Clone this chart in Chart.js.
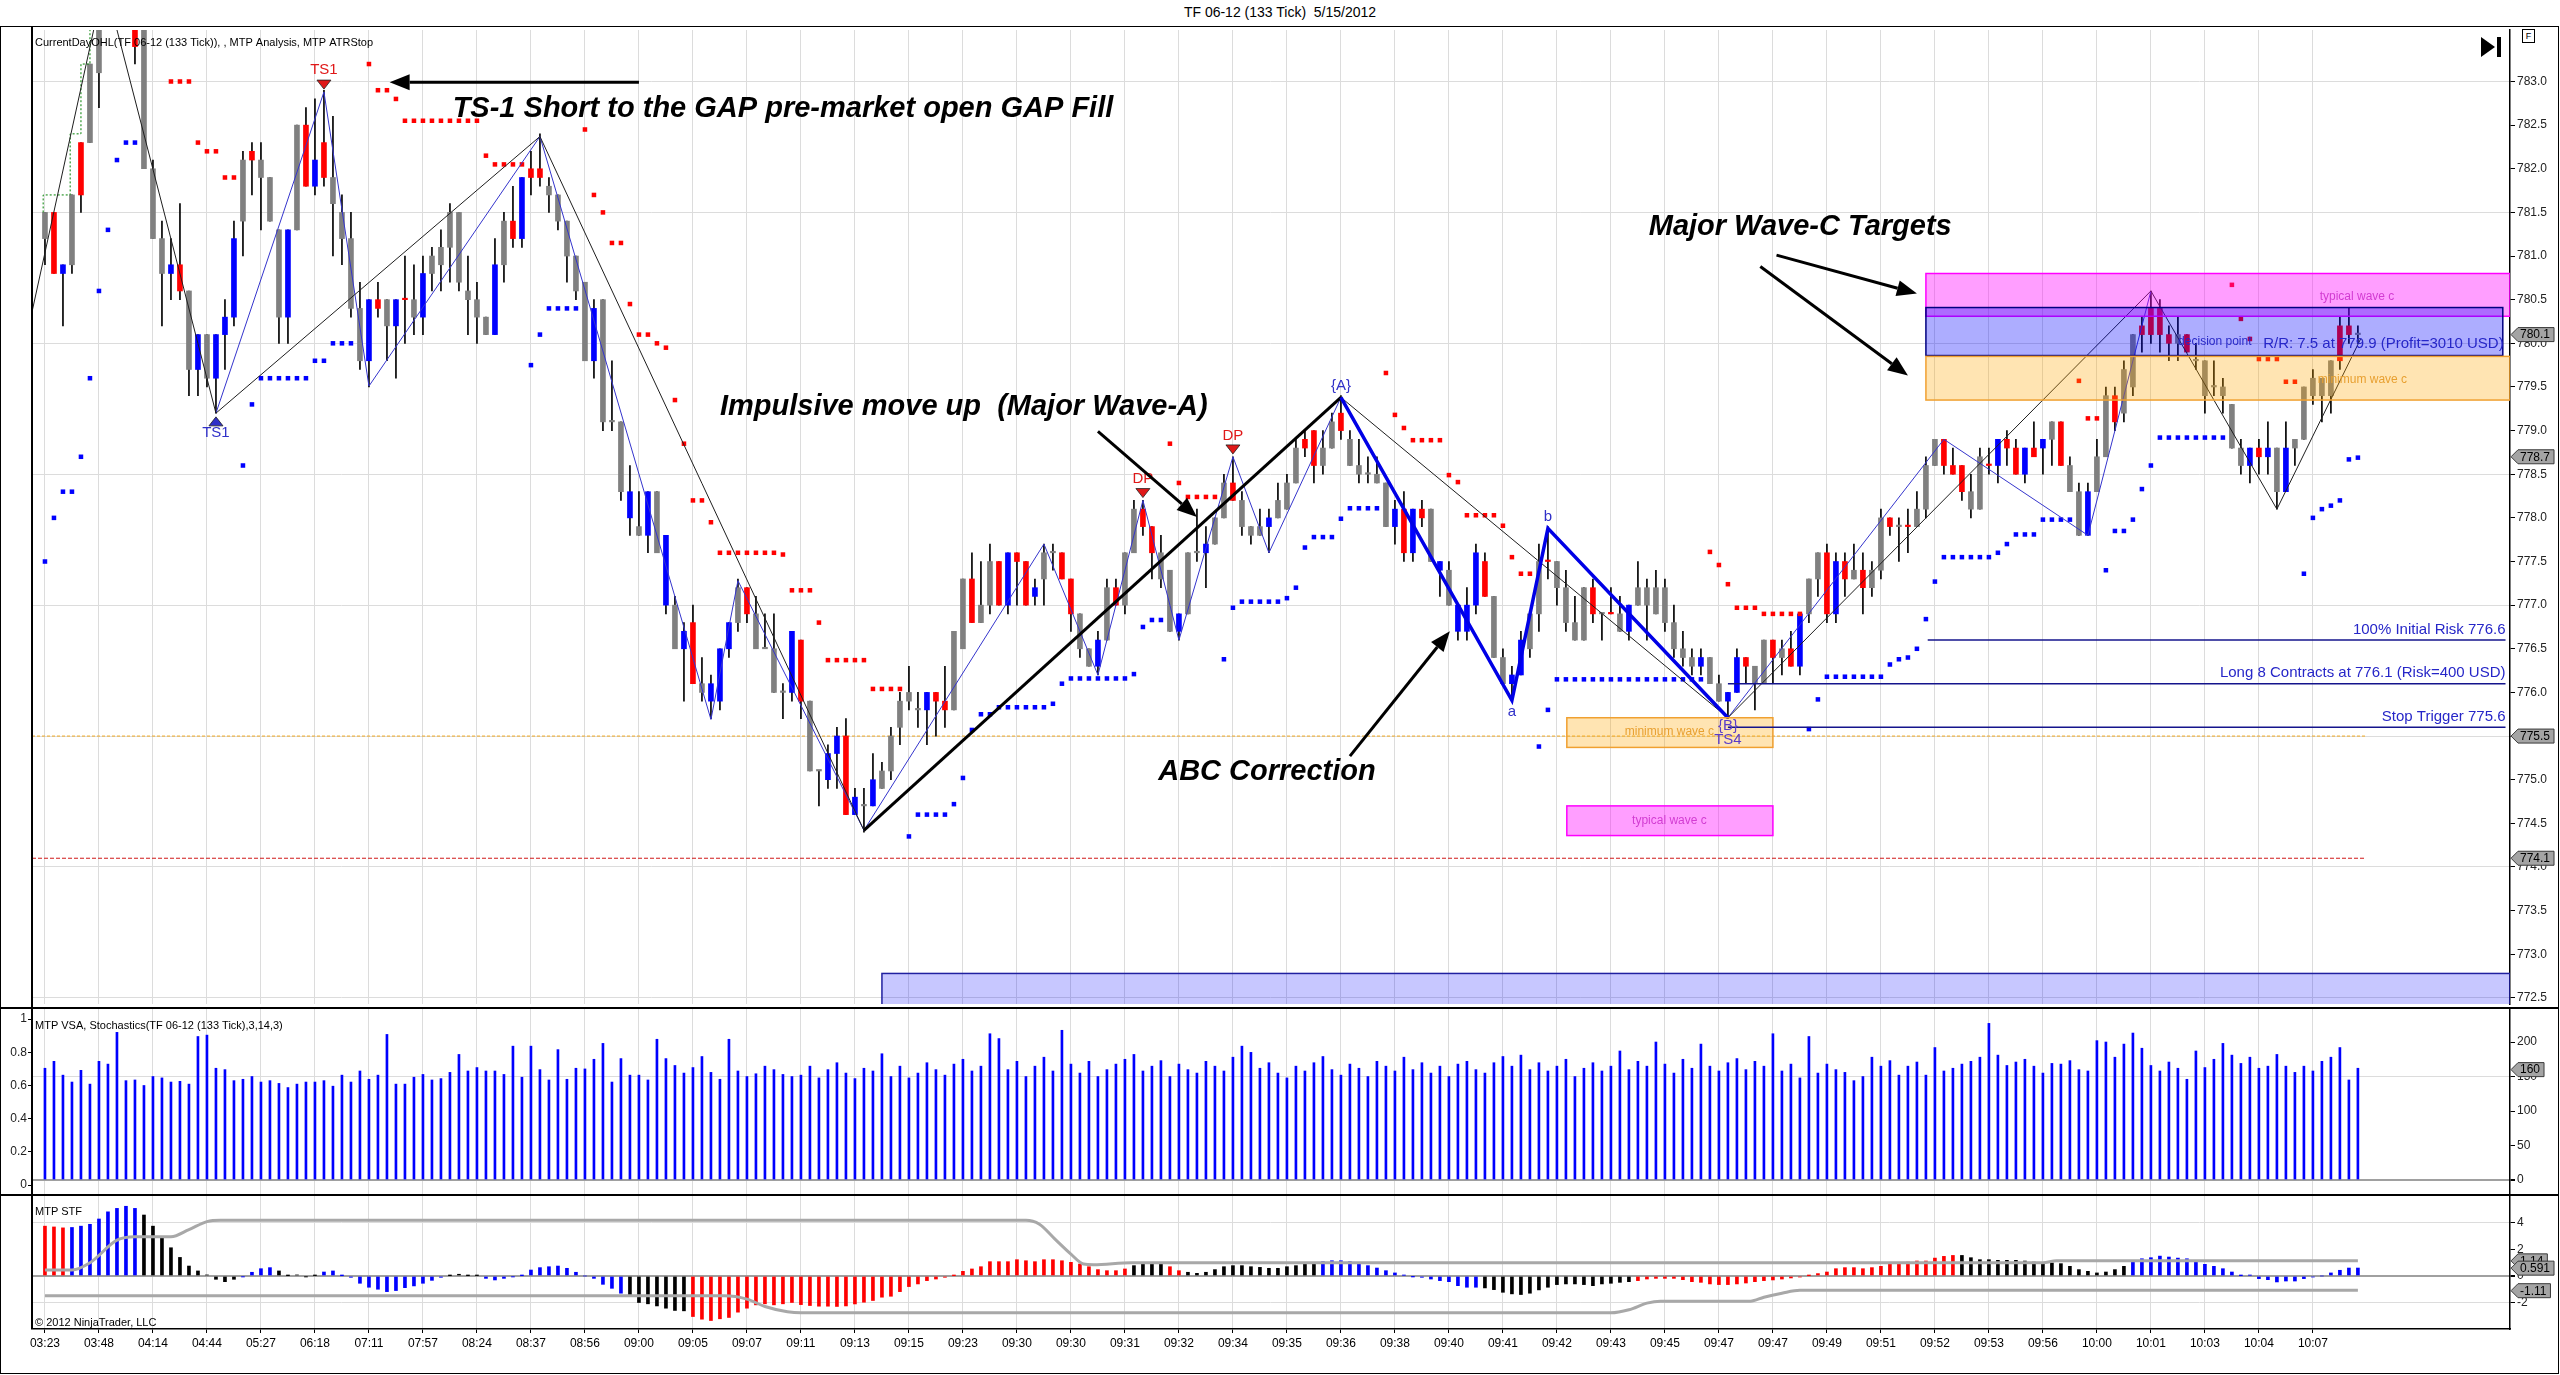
<!DOCTYPE html>
<html>
<head>
<meta charset="utf-8">
<title>TF 06-12 (133 Tick) 5/15/2012</title>
<script src="https://cdn.jsdelivr.net/npm/chart.js@4.4.1/dist/chart.umd.min.js"></script>
<style>
  html, body { margin: 0; padding: 0; background: #fff; }
  #page { position: relative; width: 2560px; height: 1375px; overflow: hidden; font-family: "Liberation Sans", Arial, sans-serif; }
  #title { position: absolute; left: 0; top: 4px; width: 2560px; text-align: center; font-size: 14px; color: #000; white-space: pre; }
  canvas { position: absolute; left: 0; }
  #mainCanvas { top: 26px; }
  #vsaCanvas { top: 1008px; }
  #stfCanvas { top: 1195px; }
  .rule { position: absolute; background: #000; }
  #frame { position: absolute; left: 0; top: 26px; width: 2559px; height: 1348px; border: 1px solid #000; box-sizing: border-box; }
  #fbox { position: absolute; left: 2522px; top: 29px; width: 11px; height: 12px; border: 1px solid #000; font-size: 9px; line-height: 12px; text-align: center; background: #fff; }
  #endIcon { position: absolute; left: 2481px; top: 37px; }
</style>
</head>
<body>
<div id="page">
  <div id="title">TF 06-12 (133 Tick)  5/15/2012</div>
  <canvas id="mainCanvas" width="2560" height="982" style="width:2560px;height:982px"></canvas>
  <canvas id="vsaCanvas" width="2560" height="187" style="width:2560px;height:187px"></canvas>
  <canvas id="stfCanvas" width="2560" height="178" style="width:2560px;height:178px"></canvas>
  <div id="frame"></div>
  <div class="rule" style="left:0;top:1007px;width:2559px;height:2px"></div>
  <div class="rule" style="left:0;top:1194px;width:2559px;height:2px"></div>
  <div class="rule" style="left:31px;top:26px;width:1.5px;height:1303px"></div>
  <div id="fbox">F</div>
  <svg id="endIcon" width="22" height="20"><polygon points="0,0 14,10 0,20" fill="#000"/><rect x="16" y="0" width="4" height="20" fill="#000"/></svg>
</div>
<script>
// ---- time axis ----
const timeLabels = ['03:23','03:48','04:14','04:44','05:27','06:18','07:11','07:57','08:24','08:37','08:56',
  '09:00','09:05','09:07','09:11','09:13','09:15','09:23','09:30','09:30','09:31','09:32','09:34','09:35',
  '09:36','09:38','09:40','09:41','09:42','09:43','09:45','09:47','09:47','09:49','09:51','09:52','09:53',
  '09:56','10:00','10:01','10:03','10:04','10:07'];
const labelEvery = 6;
const priceTicks = [783.0,782.5,782.0,781.5,781.0,780.5,780.0,779.5,779.0,778.5,778.0,777.5,777.0,776.5,776.0,775.5,775.0,774.5,774.0,773.5,773.0,772.5];
const vsaTicks = [0, 50, 100, 150, 200];
const stochTicks = [0, 0.2, 0.4, 0.6, 0.8, 1];
const stfTicks = [4, 2, 0, -2];

// ---- candles (133 tick bars) ----
const bodyTop = [
  781.5,781.5,780.9,781.7,782.3,783.2,783.7,784.0,784.2,784.1,783.7,783.7,782.0,781.2,780.9,780.9,780.6,780.1,780.1,780.1,
  780.3,781.2,782.1,782.2,782.1,781.9,781.3,781.3,782.5,782.5,782.1,782.3,781.9,781.5,781.2,780.4,780.5,780.5,780.5,780.5,
  780.5,780.5,780.8,781.0,781.1,781.5,781.5,780.6,780.5,780.3,780.9,781.4,781.4,781.9,782.0,782.0,781.8,781.7,781.4,781.0,
  780.7,780.4,780.5,779.1,779.1,778.3,777.9,778.3,778.3,777.8,777.0,776.7,776.8,776.1,776.1,776.5,776.8,777.2,777.2,776.9,
  776.5,776.5,776.0,776.7,776.6,775.9,775.1,775.3,775.5,775.5,774.8,774.7,775.0,775.1,775.5,775.9,776.0,775.8,776.0,776.0,
  775.9,776.7,777.3,777.3,777.0,777.5,777.5,777.6,777.6,777.5,777.2,777.6,777.6,777.6,777.3,776.9,776.5,776.6,777.2,777.2,
  777.6,778.1,778.1,777.9,777.6,777.4,776.9,777.6,777.6,777.7,778.0,778.4,778.4,778.2,777.9,777.9,778.0,778.2,778.4,778.8,
  778.9,779.0,778.8,779.1,779.2,778.9,778.6,778.5,778.5,778.4,778.1,778.1,778.1,778.1,778.1,777.5,777.4,777.0,777.0,777.6,
  777.5,777.1,776.4,776.2,776.6,776.9,777.5,777.5,777.5,777.2,776.8,777.2,777.2,776.9,776.9,776.9,777.0,777.2,777.2,777.2,
  777.2,776.8,776.5,776.4,776.4,776.4,776.1,776.0,776.4,776.4,776.3,776.6,776.6,776.5,776.5,776.9,777.3,777.6,777.6,777.5,
  777.5,777.4,777.4,777.4,778.0,778.0,777.9,777.9,778.1,778.6,778.9,778.9,778.6,778.6,778.3,778.7,778.6,778.9,778.9,778.8,
  778.8,778.8,778.9,779.1,779.1,778.6,778.3,778.3,778.7,779.4,779.4,779.7,780.1,780.2,780.4,780.4,780.1,780.1,780.1,779.8,
  779.8,779.5,779.5,779.3,778.8,778.8,778.8,778.8,778.8,778.8,778.9,779.5,779.6,779.6,779.8,780.2,780.2,780.1];
const bodyBot = [
  781.2,780.8,780.8,780.9,781.7,782.3,783.1,783.7,783.9,783.8,783.4,782.0,781.2,780.8,780.8,780.6,779.7,779.7,779.6,779.6,
  780.1,780.3,781.4,782.1,781.9,781.4,780.3,780.3,781.3,781.8,781.8,781.9,781.6,781.2,780.4,779.8,779.8,780.4,780.2,780.2,
  780.5,780.3,780.3,780.8,780.9,781.1,780.7,780.5,780.3,780.1,780.1,780.9,781.2,781.2,781.9,781.9,781.7,781.4,781.0,780.6,
  779.8,779.8,779.1,779.1,778.3,778.0,777.8,777.8,777.6,777.0,776.5,776.5,776.1,776.0,775.9,775.9,776.5,776.8,776.9,776.5,
  776.5,776.0,776.0,776.0,775.9,775.1,775.1,775.0,775.3,774.6,774.6,774.7,774.7,774.9,775.1,775.6,775.9,775.8,775.8,775.9,
  775.8,775.8,776.5,776.8,776.8,777.0,777.0,777.0,777.5,777.0,777.1,777.3,777.6,777.3,776.9,776.5,776.3,776.3,776.6,777.0,
  777.0,777.6,777.9,777.6,777.3,776.7,776.7,776.9,777.6,777.6,777.7,778.0,778.2,777.9,777.8,777.8,777.9,778.0,778.1,778.4,
  778.8,778.6,778.6,778.8,779.0,778.6,778.5,778.5,778.4,777.9,777.9,777.6,777.6,778.0,777.5,777.4,777.0,776.7,776.7,777.0,
  777.1,776.4,776.1,776.1,776.2,776.5,776.9,777.5,777.2,776.8,776.6,776.6,776.9,776.9,776.9,776.7,776.7,777.0,777.0,776.9,
  776.8,776.5,776.4,776.3,776.3,776.1,775.9,775.9,776.0,776.3,776.1,776.1,776.4,776.4,776.3,776.3,776.9,777.3,776.9,776.9,
  777.3,777.3,777.2,777.2,777.4,777.9,777.9,777.9,777.9,778.1,778.6,778.6,778.5,778.3,778.1,778.1,778.6,778.6,778.8,778.5,
  778.5,778.7,778.8,778.9,778.6,778.3,777.8,777.8,778.3,778.7,779.1,779.2,779.5,780.1,780.1,780.1,780.0,780.0,779.9,779.8,
  779.4,779.5,779.4,778.8,778.6,778.6,778.7,778.7,778.3,778.3,778.8,778.9,779.4,779.4,779.4,779.8,780.1,780.1];
const high = [
  781.5,781.5,780.9,781.7,782.3,783.2,783.7,784.1,784.3,784.2,783.7,783.7,782.1,781.4,781.2,781.6,780.6,780.1,780.1,780.1,
  780.5,781.4,782.2,782.3,782.3,781.9,781.3,781.3,782.5,782.7,782.8,782.9,782.6,781.7,781.5,780.7,780.5,780.7,780.5,780.5,
  781.0,780.9,781.0,781.1,781.3,781.6,781.5,781.0,780.7,780.3,781.2,781.5,781.8,781.9,782.2,782.4,781.9,781.7,781.4,781.0,
  780.7,780.5,780.5,779.8,779.1,778.6,778.3,778.3,778.3,777.8,777.1,776.8,777.0,776.4,776.2,776.5,776.8,777.3,777.2,777.1,
  776.9,776.9,776.1,776.7,776.6,775.9,775.1,775.4,775.6,775.7,774.9,774.9,775.3,775.2,775.6,776.0,776.3,776.0,776.0,776.0,
  776.3,776.7,777.3,777.6,777.5,777.7,777.5,777.6,777.6,777.5,777.3,777.7,777.7,777.6,777.3,776.9,776.5,776.7,777.3,777.3,
  777.6,778.2,778.2,777.9,777.8,777.4,776.9,777.6,778.1,777.9,778.0,778.5,778.7,778.3,777.9,778.1,778.1,778.4,778.5,778.9,
  779.0,779.0,779.0,779.2,779.4,779.0,778.9,778.7,778.7,778.4,778.2,778.3,778.1,778.2,778.1,777.5,777.5,777.0,777.2,777.7,
  777.6,777.1,776.5,776.3,776.7,776.9,777.7,777.9,777.5,777.4,777.1,777.2,777.3,776.9,777.2,777.1,777.0,777.5,777.3,777.4,
  777.3,777.0,776.7,776.5,776.5,776.4,776.2,776.0,776.5,776.4,776.3,776.6,776.6,776.6,776.7,776.9,777.3,777.6,777.7,777.6,
  777.6,777.7,777.6,777.5,778.1,778.0,778.0,778.1,778.3,778.7,778.9,778.9,778.8,778.6,778.5,778.8,778.8,778.9,779.0,778.9,
  778.8,779.1,778.9,779.1,779.1,778.7,778.4,778.4,778.9,779.5,779.5,779.8,780.1,780.3,780.6,780.5,780.2,780.3,780.1,780.0,
  779.8,779.8,779.6,779.3,778.9,778.8,778.9,779.1,778.8,779.1,778.9,779.5,779.7,779.6,779.8,780.3,780.4,780.2];
const low = [
  780.9,780.8,780.2,780.8,781.5,782.3,782.7,783.6,783.8,783.7,783.2,782.0,781.2,780.2,780.5,780.5,779.4,779.4,779.5,779.2,
  779.7,780.2,781.0,781.7,781.3,781.4,780.0,780.0,781.3,781.8,781.7,781.8,781.0,780.9,780.3,779.7,779.5,780.3,779.8,779.6,
  780.0,780.1,780.1,780.6,780.6,780.7,780.6,780.1,780.0,780.1,780.1,780.7,781.1,781.1,781.7,781.8,781.5,781.3,780.7,780.5,
  779.8,779.6,779.0,779.0,778.2,777.8,777.8,777.6,777.6,776.9,776.5,775.9,776.1,775.9,775.7,775.8,776.4,776.7,776.8,776.5,
  776.5,776.0,775.7,775.9,775.7,775.1,774.7,774.9,774.9,774.6,774.6,774.4,774.7,774.9,775.0,775.4,775.8,775.6,775.4,775.5,
  775.6,775.8,776.5,776.8,776.8,776.9,777.0,776.9,777.0,777.0,777.0,777.0,777.4,777.3,776.7,776.4,776.3,776.2,776.6,777.0,
  776.9,777.6,777.8,777.3,777.2,776.7,776.6,776.9,777.5,777.2,777.7,778.0,778.2,777.8,777.7,777.8,777.6,778.0,778.1,778.4,
  778.7,778.4,778.5,778.8,778.9,778.6,778.4,778.4,778.4,777.9,777.7,777.5,777.5,777.9,777.5,777.1,777.0,776.6,776.6,776.9,
  777.1,776.4,776.1,775.9,776.2,776.4,776.7,777.3,777.0,776.7,776.6,776.6,776.8,776.6,776.9,776.7,776.6,777.0,776.6,776.9,
  776.7,776.4,776.3,776.2,776.2,776.1,775.9,775.7,776.0,776.1,775.8,776.1,776.1,776.2,776.3,776.2,776.8,777.1,776.8,776.8,
  777.1,777.3,776.9,777.1,777.3,777.8,777.5,777.6,777.9,778.0,778.6,778.5,778.5,778.2,778.0,778.1,778.5,778.4,778.6,778.5,
  778.4,778.7,778.5,778.6,778.6,778.3,777.8,777.8,778.3,778.7,779.0,779.1,779.4,779.9,780.0,779.9,779.8,779.8,779.9,779.7,
  779.2,779.4,779.2,778.8,778.5,778.4,778.5,778.5,778.1,778.3,778.6,778.9,779.3,779.1,779.2,779.7,780.0,780.0];
// g = neutral, r = red, b = blue bar colouring
const candleColor = (
  'grbgrgggggrgggbrgbgb' + 'bbgrgggbgrbrggggbrgb' + 'rgbgggggggbgrbrrgggg' + 'gbgggbgbgbgbrgbbbgrg' +
  'gggbrggbbrbgbgggggbr' + 'rggrggrbrrbggrrggbgr' + 'ggrrggbggbggrgggbggg' + 'rrggrgggggbrbrgbgbbb' +
  'rggbbggrggggrgrgbggg' + 'ggggbggbbrggrgrbggrb' + 'rgrggrgrgggrrrggrbrr' + 'brbgrggbggrggrrrrgrg' +
  'gggggbrbgbgggggrrg').split('');

// ---- ATR stop dots ----
const n = null;
const atrRed = [
  n,n,n,n,n,n,n,n,n,n,n,n,n,n,783.0,783.0,783.0,782.3,782.2,782.2,
  781.9,781.9,n,n,n,n,n,n,n,n,n,n,n,n,n,n,783.2,782.9,782.9,782.8,
  782.55,782.55,782.55,782.55,782.55,782.55,782.55,782.55,782.55,782.15,782.05,782.05,782.05,782.05,n,n,n,n,n,n,
  782.45,781.7,781.5,781.15,781.15,780.45,780.1,780.1,780.0,779.95,779.35,778.85,778.2,778.2,777.95,777.6,777.6,777.6,777.6,777.6,
  777.6,777.6,777.58,777.17,777.17,777.17,776.8,776.37,776.37,776.37,776.37,776.37,776.04,776.04,776.04,776.04,n,n,n,n,
  n,n,n,n,n,n,n,n,n,n,n,n,n,n,n,n,n,n,n,n,
  n,n,n,n,n,778.85,778.4,778.24,778.24,778.24,778.24,n,n,n,n,n,n,n,n,n,
  n,n,n,n,n,n,n,n,n,779.66,779.18,779.03,778.89,778.89,778.89,778.89,778.49,778.41,778.03,778.03,
  778.03,778.03,777.91,777.55,777.36,777.36,n,n,n,n,n,n,n,n,n,n,n,n,n,n,
  n,n,n,n,n,777.61,777.46,777.24,776.97,776.97,776.97,776.9,776.9,776.9,776.9,776.9,n,n,n,n,
  n,n,n,n,n,n,n,n,n,n,n,n,n,n,n,n,n,n,n,n,
  n,n,n,n,n,n,779.57,779.14,779.14,n,n,n,n,n,n,n,n,n,n,n,
  n,n,n,780.67,780.28,780.05,779.82,779.82,779.82,779.56,779.56,n,n,n,n,n,n,n];
const atrBlue = [
  777.5,778.0,778.3,778.3,778.7,779.6,780.6,781.3,782.1,782.3,782.3,n,n,n,n,n,n,n,n,n,
  n,n,778.6,779.3,779.6,779.6,779.6,779.6,779.6,779.6,779.8,779.8,780.0,780.0,780.0,n,n,n,n,n,
  n,n,n,n,n,n,n,n,n,n,n,n,n,n,779.75,780.1,780.4,780.4,780.4,780.4,
  n,n,n,n,n,n,n,n,n,n,n,n,n,n,n,n,n,n,n,n,
  n,n,n,n,n,n,n,n,n,n,n,n,n,n,n,n,774.35,774.6,774.6,774.6,
  774.6,774.72,775.02,775.57,775.75,775.75,775.83,775.83,775.83,775.83,775.83,775.83,775.87,776.1,776.16,776.16,776.16,776.16,776.16,776.16,
  776.16,776.21,776.75,776.83,776.83,n,n,n,n,n,n,776.38,776.97,777.04,777.04,777.04,777.04,777.04,777.08,777.2,
  777.66,777.78,777.78,777.78,777.99,778.11,778.11,778.11,778.11,n,n,n,n,n,n,n,n,n,n,n,
  n,n,n,n,n,n,775.38,775.8,776.15,776.15,776.15,776.15,776.15,776.15,776.15,776.15,776.15,776.15,776.15,776.15,
  776.15,776.15,776.15,776.15,776.15,n,n,n,n,n,n,n,n,n,n,n,775.58,775.92,776.18,776.18,
  776.18,776.18,776.18,776.18,776.18,776.32,776.38,776.4,776.5,776.84,777.27,777.55,777.55,777.55,777.55,777.55,777.55,777.6,777.7,777.81,
  777.81,777.81,777.98,777.98,777.98,777.98,n,n,n,777.4,777.85,777.85,777.98,778.33,778.6,778.92,778.92,778.92,778.92,778.92,
  778.92,778.92,778.92,n,n,n,n,n,n,n,n,777.36,778.0,778.1,778.14,778.2,778.67,778.69];

// ---- swing lines [bar, price] ----
const dayHigh = [[-0.2,781.5],[2.8,781.7],[4,782.4],[5,783.2],[6,783.7]];
const zigBlack1 = [[-1.44,780.36],[6.6,784.15],[19,779.2],[55,782.37],[91,774.42]];
const waveA = [[91,774.42],[144,779.38]];
const zigBlack2 = [[144,779.38],[187,775.71],[234,780.6],[248,778.1],[257.3,780.05]];
const zigBlue1 = [[19,779.2],[31,782.88],[36,779.51],[55,782.37],[74,775.69],[77,777.28],[91,774.42],[111,777.7],
  [117,776.2],[122,778.2],[126,776.6],[132,778.7],[136,777.6],[144,779.38]];
const zigBlue2 = [[187,775.71],[211,778.9],[227,777.8],[234,780.6]];
const abcLine = [[144,779.38],[163,775.91],[167,777.88],[187,775.71]];

// ---- levels ----
const dayLevels = [775.5, 774.1];
const dayLevelEnd = 257.8;
const tradeLevels = [776.6, 776.1, 775.6];
const tradeFrom = [209.2, 187, 187];
const tradeEnd = 273.4;
const tradeText = ['100% Initial Risk 776.6', 'Long 8 Contracts at 776.1 (Risk=400 USD)', 'Stop Trigger 775.6'];
const rrText = 'R/R: 7.5 at 779.9 (Profit=3010 USD)';
const rrAt = [273.2, 779.99];

// ---- target zones ----
const zoneKind = ['pink', 'blue', 'orange', 'orange', 'pink', 'band'];
const zoneBars = [[209, 273.9], [209, 273.1], [209, 273.9], [169.1, 192], [169.1, 192], [93, 273.9]];
const zonePrices = [[780.31, 780.80], [779.86, 780.41], [779.35, 779.85], [775.37, 775.71], [774.36, 774.70], [772.2, 772.78]];
const zoneText = ['typical wave c', 'decision point', 'minimum wave c', 'minimum wave c', 'typical wave c', ''];
const zoneTextAt = [[256.9, 780.54], [241.1, 780.02], [257.5, 779.58], [180.5, 775.55], [180.5, 774.53], null];

// ---- markers ----
const markText = ['TS1', 'TS1', 'DP', 'DP', '{A}', 'a', 'b', '{B}', 'TS4'];
const markAt = [[31, 783.13], [19, 778.97], [122, 778.45], [132, 778.94], [144, 779.51], [163, 775.78], [167, 778.01], [187, 775.62], [187, 775.46]];
const markTone = ['r', 'b', 'r', 'r', 'b', 'b', 'b', 'p', 'p'];
const triAt = [[31, 782.97], [19, 779.1], [122, 778.29], [132, 778.79]];
const triUp = [false, true, false, false];
const triTone = ['r', 'b', 'r', 'r'];

// ---- notes and arrows ----
const noteText = ['TS-1 Short to the GAP pre-market open GAP Fill', 'Impulsive move up  (Major Wave-A)', 'ABC Correction', 'Major Wave-C Targets'];
const noteAt = [[45.3, 782.69], [75, 779.27], [123.7, 775.09], [178.2, 781.33]];
const arrows = [[66, 782.99, 38.3, 782.99], [117, 778.99, 128, 778.01], [145, 775.27, 156.1, 776.70], [192.4, 781.01, 208, 780.57], [190.6, 780.88, 207, 779.63]];

// ---- axis tags ----
const priceTags = [780.1, 778.7, 775.5, 774.1];
const vsaTags = [160];
const stfTags = [1.14, 0.591, -1.11];

// ---- MTP VSA volume ----
const vsa = [
  162,172,152,142,159,139,172,168,214,144,145,137,150,148,142,143,139,208,210,162,
  160,144,146,150,142,144,140,134,139,142,142,144,136,152,142,158,146,152,211,139,
  139,149,153,145,147,156,182,158,163,158,158,153,194,149,194,160,145,189,146,162,
  161,175,198,142,176,152,152,145,204,176,166,155,163,179,156,146,204,158,150,154,
  165,160,153,150,152,165,148,160,170,155,147,162,158,183,150,165,148,155,170,160,
  152,168,175,158,165,212,205,160,172,150,165,178,158,217,168,155,172,150,160,168,
  175,182,158,165,173,150,168,160,155,172,165,158,178,194,185,162,170,155,148,165,
  158,170,179,160,152,168,162,150,172,165,158,178,160,170,155,165,150,168,172,160,
  155,170,179,165,181,160,170,158,165,175,150,162,170,158,165,187,160,172,165,200,
  168,155,175,162,197,165,158,170,176,160,172,165,212,158,168,148,208,155,168,160,
  156,144,150,178,165,173,152,165,171,152,192,158,162,168,172,178,227,181,166,171,
  175,165,155,169,168,173,160,158,202,200,178,197,213,191,166,158,171,162,146,187,
  163,175,198,181,169,178,162,165,182,165,156,165,158,172,178,192,145,162];

// ---- MTP STF histogram ----
const stf = [
  3.76,3.7,3.63,3.66,3.76,3.9,4.3,4.84,5.1,5.26,5.1,4.6,3.76,2.96,2.13,1.4,0.75,0.38,0.08,-0.25,
  -0.43,-0.25,-0.05,0.28,0.55,0.63,0.38,0.02,0.08,-0.05,0.03,0.3,0.38,0.02,-0.1,-0.55,-0.85,-1.0,-1.18,-1.1,
  -0.88,-0.75,-0.55,-0.33,-0.1,0.02,0.13,0.02,0.03,-0.18,-0.3,-0.18,-0.05,0.02,0.45,0.63,0.7,0.75,0.58,0.28,
  0.0,-0.18,-0.63,-0.93,-1.3,-1.5,-2.0,-2.1,-2.26,-2.43,-2.6,-2.63,-3.06,-3.26,-3.36,-3.23,-3.13,-2.73,-2.43,-2.18,
  -2.1,-2.18,-2.1,-2.0,-2.16,-2.23,-2.28,-2.28,-2.3,-2.26,-2.11,-1.98,-1.85,-1.6,-1.53,-1.18,-0.8,-0.6,-0.35,-0.23,
  -0.1,0.02,0.35,0.53,0.7,1.08,1.08,1.08,1.23,1.15,1.08,1.23,1.23,1.15,1.03,0.9,0.7,0.48,0.4,0.4,
  0.53,0.78,0.98,0.98,0.98,0.7,0.4,0.28,0.2,0.28,0.48,0.7,0.78,0.78,0.7,0.65,0.58,0.58,0.7,0.78,
  0.9,1.03,1.08,1.15,1.15,1.08,0.98,0.78,0.6,0.4,0.23,0.05,-0.03,-0.1,-0.23,-0.35,-0.43,-0.73,-0.85,-0.85,
  -0.9,-1.03,-1.23,-1.35,-1.4,-1.3,-1.05,-0.85,-0.65,-0.6,-0.6,-0.65,-0.73,-0.6,-0.55,-0.48,-0.43,-0.35,-0.23,-0.18,
  -0.18,-0.18,-0.28,-0.43,-0.48,-0.6,-0.65,-0.65,-0.6,-0.53,-0.43,-0.35,-0.3,-0.23,-0.15,-0.08,0.02,0.18,0.3,0.55,
  0.63,0.63,0.55,0.63,0.73,0.88,0.98,1.05,1.13,1.13,1.35,1.48,1.55,1.55,1.38,1.23,1.23,1.18,1.18,1.18,
  1.13,1.05,0.98,0.98,0.93,0.73,0.48,0.35,0.23,0.3,0.48,0.73,1.05,1.3,1.38,1.5,1.43,1.35,1.3,1.05,
  0.88,0.73,0.55,0.3,0.02,0.05,-0.2,-0.28,-0.45,-0.38,-0.38,-0.2,-0.08,0.0,0.23,0.43,0.6,0.6];
// colour runs: r = red, b = blue, k = black
const stfColorRuns = [['r',3],['b',8],['k',11],['b',4],['k',5],['b',14],['k',4],['b',16],['k',7],['r',49],
  ['k',4],['r',2],['k',15],['b',18],['k',17],['r',36],['k',19],['b',26]];
const stfUpper = [[0,0.45],[3,0.45],[5,1.0],[8,2.7],[10,2.96],[14,2.96],[16,3.5],[18,4.1],[19.5,4.2],[109,4.2],
  [110.5,3.9],[112.2,2.8],[114,1.65],[115.4,0.9],[116.5,0.85],[120.7,1.0],[222,1.0],[223.5,1.14],[257,1.14]];
const stfLower = [[0,-1.5],[75.5,-1.5],[78,-1.75],[80,-2.3],[82.5,-2.7],[84,-2.78],[174,-2.78],[176,-2.55],[178,-2.05],
  [179.5,-1.9],[189.5,-1.9],[191,-1.6],[193,-1.3],[195,-1.08],[257,-1.08]];

// ================= drawing =================
const FONT = '"Liberation Sans", Arial, sans-serif';
Chart.defaults.font.family = FONT;
Chart.defaults.animation = false;
Chart.defaults.plugins.legend.display = false;
Chart.defaults.plugins.tooltip.enabled = false;

const idx = candleColor.map((_, i) => i);
const candlePalette = { g: '#808080', r: '#ff0000', b: '#0000ff' };
const stfPalette = { r: '#ff0000', b: '#0000ff', k: '#000000' };
const tonePalette = { r: '#e01818', b: '#3030c8', p: '#5a3cc8' };
const zoneStyle = {
  pink:   { fill: 'rgba(255,0,255,0.38)', line: '#ff00ff', text: '#d23cd2' },
  blue:   { fill: 'rgba(0,0,255,0.32)',   line: '#000080', text: '#2828c8' },
  orange: { fill: 'rgba(255,165,0,0.30)', line: '#f0a030', text: '#e8a030' },
  band:   { fill: 'rgba(0,0,255,0.22)',   line: '#2020a0', text: '#000' }
};
const stfColors = [];
stfColorRuns.forEach(([c, len]) => { for (let k = 0; k < len; k++) stfColors.push(stfPalette[c]); });

const pts = arr => arr.map(([x, y]) => ({ x, y }));
const lineDS = (arr, color, width, order, extra) => Object.assign({
  type: 'line', data: pts(arr), borderColor: color, borderWidth: width, pointRadius: 0, fill: false, order
}, extra || {});

function xAxis(showLabels) {
  return {
    type: 'linear', min: -1.44, max: 273.9, offset: false,
    afterBuildTicks: s => { s.ticks = timeLabels.map((t, k) => ({ value: k * labelEvery })); },
    grid: { color: '#dcdcdc', offset: false, drawTicks: showLabels, tickLength: 4, tickColor: '#000' },
    border: { display: showLabels, color: '#000', width: 1.5 },
    ticks: { display: showLabels, autoSkip: false, maxRotation: 0, padding: 3, color: '#000', font: { size: 12 },
             callback: (v, k) => timeLabels[k] },
    afterFit: s => { s.height = showLabels ? 44 : 0; s.paddingLeft = 0; s.paddingRight = 0; }
  };
}
function rightAxis(min, max, ticks, gridColor, fmt) {
  return {
    position: 'right', min, max, beginAtZero: false,
    afterBuildTicks: s => { s.ticks = ticks.map(v => ({ value: v })); },
    grid: { color: c => gridColor(c.tick.value), lineWidth: c => (c.tick.value === 0 && gridColor(0) !== 'rgba(0,0,0,0)' ? 2 : 1),
            tickColor: '#000', tickLength: 5 },
    border: { display: true, color: '#000', width: 1.5 },
    ticks: { color: '#222', font: { size: 12 }, padding: 2, callback: fmt },
    afterFit: s => { s.width = 50; s.paddingTop = 0; s.paddingBottom = 0; }
  };
}

function drawTag(ctx, x, y, text) {
  ctx.font = '12px ' + FONT;
  const w = ctx.measureText(text).width + 6;
  ctx.beginPath();
  ctx.moveTo(x, y); ctx.lineTo(x + 7, y - 7); ctx.lineTo(x + 7 + w, y - 7); ctx.lineTo(x + 7 + w, y + 7); ctx.lineTo(x + 7, y + 7);
  ctx.closePath();
  ctx.fillStyle = '#a4a4a4'; ctx.fill();
  ctx.strokeStyle = '#3a3a3a'; ctx.lineWidth = 1; ctx.stroke();
  ctx.fillStyle = '#000'; ctx.textAlign = 'left'; ctx.textBaseline = 'middle';
  ctx.fillText(text, x + 9, y + 0.5);
}
function drawArrow(ctx, x0, y0, x1, y1) {
  const ang = Math.atan2(y1 - y0, x1 - x0), head = 20, half = 8;
  const bx = x1 - head * Math.cos(ang), by = y1 - head * Math.sin(ang);
  ctx.lineWidth = 3; ctx.strokeStyle = '#000'; ctx.fillStyle = '#000';
  ctx.beginPath(); ctx.moveTo(x0, y0); ctx.lineTo(bx, by); ctx.stroke();
  ctx.beginPath(); ctx.moveTo(x1, y1);
  ctx.lineTo(bx + half * Math.sin(ang), by - half * Math.cos(ang));
  ctx.lineTo(bx - half * Math.sin(ang), by + half * Math.cos(ang));
  ctx.closePath(); ctx.fill();
}
function drawTri(ctx, x, y, up, color) {
  ctx.beginPath();
  if (up) { ctx.moveTo(x, y - 5); ctx.lineTo(x + 7, y + 4); ctx.lineTo(x - 7, y + 4); }
  else { ctx.moveTo(x, y + 5); ctx.lineTo(x + 7, y - 4); ctx.lineTo(x - 7, y - 4); }
  ctx.closePath(); ctx.fillStyle = color; ctx.fill();
  ctx.strokeStyle = '#202020'; ctx.lineWidth = 0.8; ctx.stroke();
}

const mainOverlay = {
  id: 'mainOverlay',
  afterDatasetsDraw(chart) {
    const { ctx, chartArea: a } = chart;
    const X = v => chart.scales.x.getPixelForValue(v);
    const Y = v => chart.scales.y.getPixelForValue(v);
    ctx.save();
    ctx.beginPath(); ctx.rect(a.left, a.top, a.right - a.left, a.bottom - a.top); ctx.clip();

    // zones
    zoneKind.forEach((kind, k) => {
      const st = zoneStyle[kind];
      const x0 = X(zoneBars[k][0]), x1 = X(zoneBars[k][1]);
      const y0 = Y(zonePrices[k][1]), y1 = Y(zonePrices[k][0]);
      ctx.fillStyle = st.fill; ctx.fillRect(x0, y0, x1 - x0, y1 - y0);
      ctx.strokeStyle = st.line; ctx.lineWidth = 1.5; ctx.strokeRect(x0, y0, x1 - x0, y1 - y0);
    });
    ctx.font = '12px ' + FONT; ctx.textAlign = 'center'; ctx.textBaseline = 'middle';
    zoneText.forEach((t, k) => {
      if (!t) return;
      ctx.fillStyle = zoneStyle[zoneKind[k]].text;
      ctx.fillText(t, X(zoneTextAt[k][0]), Y(zoneTextAt[k][1]));
    });

    // trade levels
    ctx.strokeStyle = '#14148c'; ctx.lineWidth = 1.5;
    tradeLevels.forEach((p, k) => {
      ctx.beginPath(); ctx.moveTo(X(tradeFrom[k]), Y(p)); ctx.lineTo(X(tradeEnd), Y(p)); ctx.stroke();
    });
    ctx.font = '15px ' + FONT; ctx.textAlign = 'right'; ctx.textBaseline = 'bottom'; ctx.fillStyle = '#2626c8';
    tradeLevels.forEach((p, k) => ctx.fillText(tradeText[k], X(tradeEnd), Y(p) - 3));
    ctx.textBaseline = 'middle';
    ctx.fillText(rrText, X(rrAt[0]), Y(rrAt[1]));

    // markers
    triAt.forEach(([i, p], k) => drawTri(ctx, X(i), Y(p), triUp[k], tonePalette[triTone[k]]));
    ctx.font = '15px ' + FONT; ctx.textAlign = 'center'; ctx.textBaseline = 'middle';
    markText.forEach((t, k) => {
      ctx.fillStyle = tonePalette[markTone[k]];
      ctx.fillText(t, X(markAt[k][0]), Y(markAt[k][1]));
    });

    // notes and arrows
    ctx.font = 'italic bold 29px ' + FONT; ctx.textAlign = 'left'; ctx.fillStyle = '#000';
    noteText.forEach((t, k) => ctx.fillText(t, X(noteAt[k][0]), Y(noteAt[k][1])));
    arrows.forEach(([i0, p0, i1, p1]) => drawArrow(ctx, X(i0), Y(p0), X(i1), Y(p1)));

    // indicator caption
    ctx.font = '11px ' + FONT; ctx.fillStyle = '#000'; ctx.textAlign = 'left';
    ctx.fillText('CurrentDayOHL(TF 06-12 (133 Tick)), , MTP Analysis, MTP ATRStop', a.left + 3, a.top + 13);
    ctx.restore();
  },
  afterDraw(chart) {
    const { ctx, chartArea: a } = chart;
    priceTags.forEach(p => drawTag(ctx, a.right + 1, chart.scales.y.getPixelForValue(p), p.toFixed(1)));
  }
};

new Chart(document.getElementById('mainCanvas'), {
  type: 'bar',
  data: {
    datasets: [
      lineDS(abcLine, '#0000e6', 3.5, 1),
      lineDS(waveA, '#000000', 3, 1),
      lineDS(zigBlack1, '#1e1e1e', 1, 1),
      lineDS(zigBlack2, '#1e1e1e', 1, 1),
      lineDS(zigBlue1, '#3434cc', 1, 1),
      lineDS(zigBlue2, '#3434cc', 1, 1),
      lineDS(dayHigh, '#008000', 1, 1, { stepped: 'after', borderDash: [2, 2] }),
      { type: 'line', data: atrRed.map((v, i) => ({ x: i, y: v })), showLine: false, pointStyle: 'rect',
        pointRadius: 3.2, pointBackgroundColor: '#ff0000', pointBorderWidth: 0, order: 2 },
      { type: 'line', data: atrBlue.map((v, i) => ({ x: i, y: v })), showLine: false, pointStyle: 'rect',
        pointRadius: 3.2, pointBackgroundColor: '#0000ff', pointBorderWidth: 0, order: 2 },
      { type: 'bar', data: idx.map(i => ({ x: i, y: [bodyBot[i], bodyTop[i]] })),
        backgroundColor: idx.map(i => candlePalette[candleColor[i]]), barThickness: 5, minBarLength: 1.5,
        grouped: false, order: 3 },
      { type: 'bar', data: idx.map(i => ({ x: i, y: [low[i], high[i]] })), backgroundColor: '#000',
        barThickness: 1, minBarLength: 1, grouped: false, order: 4 },
      lineDS([[-1.44, dayLevels[0]], [dayLevelEnd, dayLevels[0]]], '#f0a820', 1, 5, { borderDash: [3, 2] }),
      lineDS([[-1.44, dayLevels[1]], [dayLevelEnd, dayLevels[1]]], '#d01818', 1, 5, { borderDash: [4, 2] })
    ]
  },
  options: {
    responsive: false, devicePixelRatio: 1,
    layout: { padding: { left: 32, right: 0, top: 0, bottom: 0 } },
    scales: {
      x: xAxis(false),
      y: rightAxis(772.43, 783.59, priceTicks,
        v => (Math.abs(v / 1.5 - Math.round(v / 1.5)) < 1e-6 ? '#dcdcdc' : 'rgba(0,0,0,0)'),
        v => Number(v).toFixed(1))
    }
  },
  plugins: [mainOverlay]
});

// ---- VSA pane ----
new Chart(document.getElementById('vsaCanvas'), {
  type: 'bar',
  data: {
    datasets: [{ data: idx.map(i => ({ x: i, y: vsa[i] })), backgroundColor: '#0000ff', barThickness: 2, grouped: false, yAxisID: 'y' }]
  },
  options: {
    responsive: false, devicePixelRatio: 1,
    layout: { padding: 0 },
    scales: {
      x: xAxis(false),
      y: rightAxis(-21.7, 249.3, vsaTicks,
        v => (v === 150 ? '#dcdcdc' : v === 0 ? '#a0a0a0' : 'rgba(0,0,0,0)'), v => String(v)),
      yL: {
        axis: 'y', position: 'left', min: -0.0602, max: 1.0663,
        afterBuildTicks: s => { s.ticks = stochTicks.map(v => ({ value: v })); },
        grid: { drawOnChartArea: false, tickColor: '#000', tickLength: 4 },
        border: { display: true, color: '#000', width: 1.5 },
        ticks: { color: '#222', font: { size: 12 }, padding: 1, callback: v => String(Math.round(v * 10) / 10) },
        afterFit: s => { s.width = 32; s.paddingTop = 0; s.paddingBottom = 0; }
      }
    }
  },
  plugins: [{
    id: 'vsaText',
    afterDatasetsDraw(chart) {
      const { ctx, chartArea: a } = chart;
      ctx.save(); ctx.font = '11px ' + FONT; ctx.fillStyle = '#000'; ctx.textBaseline = 'middle';
      ctx.fillText('MTP VSA, Stochastics(TF 06-12 (133 Tick),3,14,3)', a.left + 3, a.top + 18);
      ctx.restore();
    },
    afterDraw(chart) {
      vsaTags.forEach(v => drawTag(chart.ctx, chart.chartArea.right + 1, chart.scales.y.getPixelForValue(v), String(v)));
    }
  }]
});

// ---- STF pane ----
new Chart(document.getElementById('stfCanvas'), {
  type: 'bar',
  data: {
    datasets: [
      lineDS(stfUpper, '#a8a8a8', 3, 1, { cubicInterpolationMode: 'monotone' }),
      lineDS(stfLower, '#a8a8a8', 3, 1, { cubicInterpolationMode: 'monotone' }),
      { type: 'bar', data: idx.map(i => ({ x: i, y: stf[i] })), backgroundColor: stfColors, barThickness: 3,
        grouped: false, order: 2 }
    ]
  },
  options: {
    responsive: false, devicePixelRatio: 1,
    layout: { padding: { left: 32, right: 0, top: 0, bottom: 0 } },
    scales: {
      x: xAxis(true),
      y: rightAxis(-4.0, 6.11, stfTicks,
        v => (v === 4 || v === -2 ? '#dcdcdc' : v === 0 ? '#a0a0a0' : 'rgba(0,0,0,0)'), v => String(v))
    }
  },
  plugins: [{
    id: 'stfText',
    afterDatasetsDraw(chart) {
      const { ctx, chartArea: a } = chart;
      ctx.save(); ctx.font = '11px ' + FONT; ctx.fillStyle = '#000'; ctx.textBaseline = 'middle';
      ctx.fillText('MTP STF', a.left + 3, a.top + 17);
      ctx.fillText('\u00A9 2012 NinjaTrader, LLC', a.left + 3, a.bottom - 6);
      ctx.restore();
    },
    afterDraw(chart) {
      stfTags.forEach(v => drawTag(chart.ctx, chart.chartArea.right + 1, chart.scales.y.getPixelForValue(v), String(v)));
    }
  }]
});
</script>
</body>
</html>
